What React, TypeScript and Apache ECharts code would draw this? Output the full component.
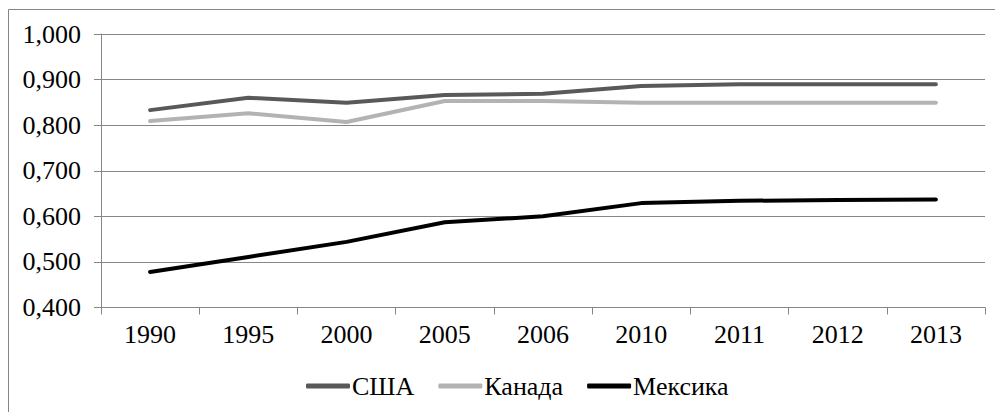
import React, { useEffect, useRef } from "react";
import * as echarts from "echarts";

const years = ["1990", "1995", "2000", "2005", "2006", "2010", "2011", "2012", "2013"];
const usa = [0.833, 0.86, 0.849, 0.866, 0.869, 0.886, 0.89, 0.89, 0.89];
const canada = [0.809, 0.826, 0.807, 0.853, 0.853, 0.849, 0.849, 0.849, 0.849];
const mexico = [0.478, 0.511, 0.544, 0.587, 0.6, 0.629, 0.634, 0.636, 0.637];
const seriesNames = ["США", "Канада", "Мексика"];

const FONT = "'Liberation Serif', 'Times New Roman', serif";

export default function App() {
  const ref = useRef<HTMLDivElement>(null);
  useEffect(() => {
    if (!ref.current) return;
    const chart = echarts.init(ref.current, undefined, { renderer: "svg" });
    const mk = (name: string, data: number[], color: string) => ({
      name,
      type: "line",
      data,
      symbol: "none",
      smooth: false,
      lineStyle: { color, width: 4, cap: "round", join: "round" },
      itemStyle: { color },
    });
    chart.setOption({
      animation: false,
      backgroundColor: "#ffffff",
      textStyle: { fontFamily: FONT },
      graphic: [
        {
          type: "polyline",
          shape: { points: [[8.5, 412], [8.5, 9.5], [995, 9.5]] },
          style: { stroke: "#868686", lineWidth: 1, fill: "none" },
        },
      ],
      grid: { left: 101, right: 10, top: 34, bottom: 104.5, containLabel: false },
      xAxis: {
        type: "category",
        data: years,
        boundaryGap: true,
        axisLine: { show: true, lineStyle: { color: "#868686", width: 1 } },
        axisTick: { show: true, length: 7, alignWithLabel: false, lineStyle: { color: "#868686" } },
        axisLabel: { color: "#000", fontSize: 26, fontFamily: FONT, margin: 14 },
        splitLine: { show: false },
      },
      yAxis: {
        type: "value",
        min: 0.4,
        max: 1.0,
        interval: 0.1,
        axisLine: { show: true, lineStyle: { color: "#868686", width: 1 } },
        axisTick: { show: true, length: 7, lineStyle: { color: "#868686" } },
        axisLabel: {
          color: "#000",
          fontSize: 26,
          fontFamily: FONT,
          margin: 20,
          formatter: (v: number) => v.toFixed(3).replace(".", ","),
        },
        splitLine: { show: true, lineStyle: { color: "#868686", width: 1 } },
      },
      legend: {
        data: seriesNames.map((n) => ({ name: n, icon: "roundRect" })),
        bottom: 8,
        left: 301,
        itemWidth: 44,
        itemHeight: 5,
        itemGap: 24,
        textStyle: { color: "#000", fontSize: 26, fontFamily: FONT, padding: [0, 0, 0, -3] },
      },
      series: [
        mk(seriesNames[0], usa, "#595959"),
        mk(seriesNames[1], canada, "#b3b3b3"),
        mk(seriesNames[2], mexico, "#000000"),
      ],
    });
    return () => chart.dispose();
  }, []);
  return (
    <div
      ref={ref}
      style={{ position: "absolute", left: 0, top: 0, width: 995, height: 412 }}
    />
  );
}
